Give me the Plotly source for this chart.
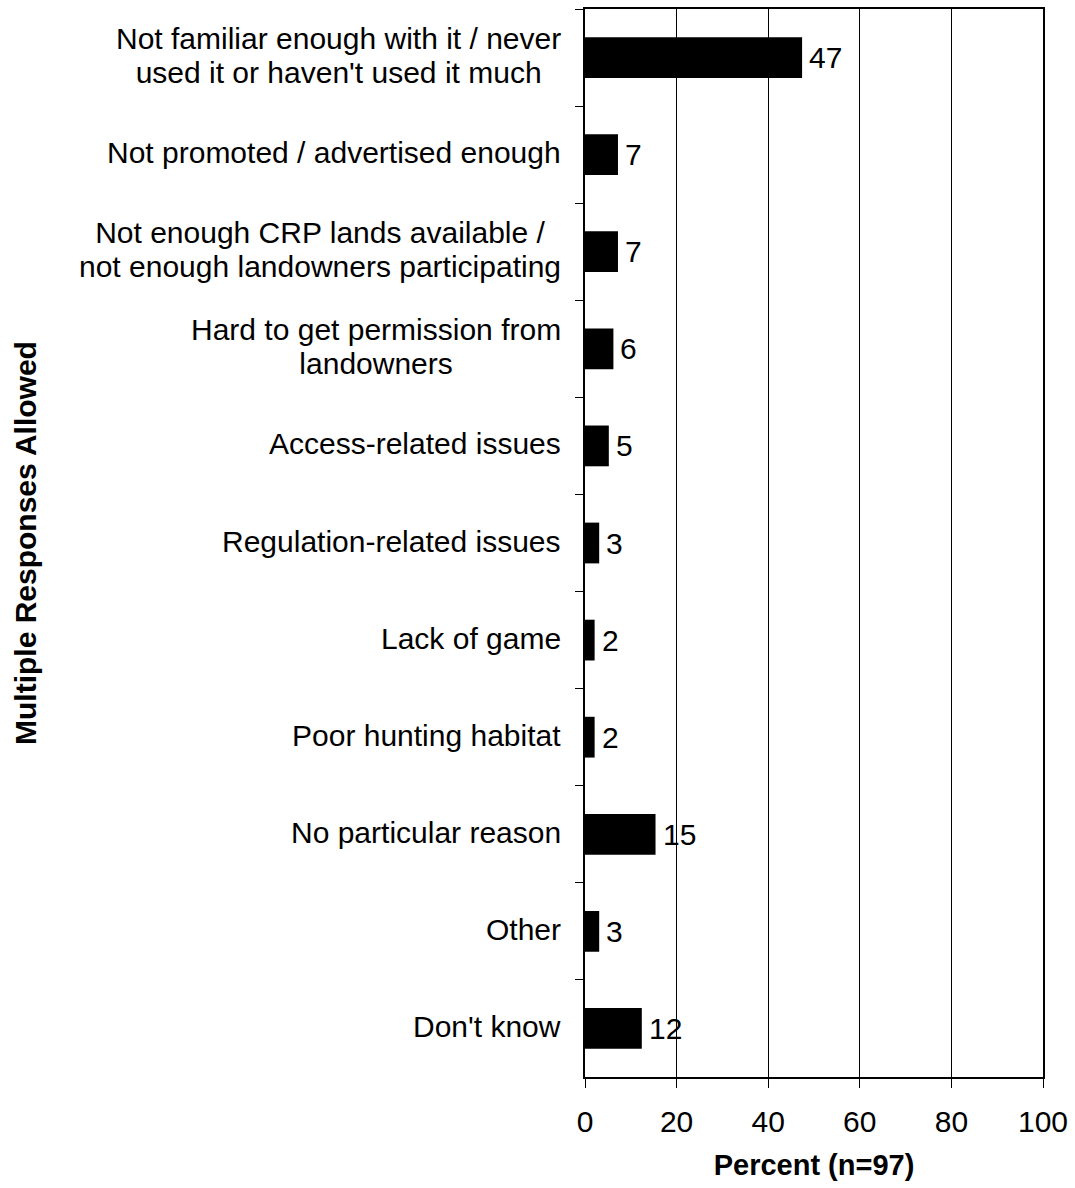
import plotly.graph_objects as go

# categories top to bottom
reasons = [
    "Not familiar enough with it / never<br>used it or haven't used it much",
    "Not promoted / advertised enough",
    "Not enough CRP lands available /<br>not enough landowners participating",
    "Hard to get permission from<br>landowners",
    "Access-related issues",
    "Regulation-related issues",
    "Lack of game",
    "Poor hunting habitat",
    "No particular reason",
    "Other",
    "Don't know",
]
percent = [47.4, 7.2, 7.2, 6.2, 5.2, 3.1, 2.1, 2.1, 15.4, 3.1, 12.4]
x_ticks = [0, 20, 40, 60, 80, 100]

FONT = "Liberation Sans, Arial, sans-serif"
FS = 30

fig = go.Figure()
fig.add_trace(go.Bar(
    x=percent, y=reasons, orientation="h",
    marker=dict(color="black", line=dict(width=0)),
    width=0.42,
    hoverinfo="x+y",
))

# value labels just right of the bar ends
for r, p in zip(reasons, percent):
    fig.add_annotation(
        x=p, xref="x", y=r, yref="y", text=str(round(p)),
        showarrow=False, xanchor="left", yanchor="middle", xshift=5,
        font=dict(size=FS, color="black", family=FONT),
    )

# category labels: block right-aligned, lines centered, tight line spacing
for r in reasons:
    lines = r.split("<br>")
    txt = "<br>".join('<span style="font-size:%dpx">%s</span>' % (FS, ln) for ln in lines)
    fig.add_annotation(
        x=0, xref="paper", y=r, yref="y",
        text=txt, showarrow=False, xanchor="right", yanchor="middle",
        align="center", xshift=-22, yshift=2,
        font=dict(size=26, color="black", family=FONT),
    )

fig.add_annotation(
    x=0, xref="paper", y=0.5, yref="paper",
    text="<b>Multiple Responses Allowed</b>", textangle=-90,
    showarrow=False, xanchor="center", yanchor="middle", xshift=-560,
    font=dict(size=30, color="black", family=FONT),
)

fig.update_layout(
    width=1075, height=1188,
    margin=dict(l=585, r=28, t=7, b=111),
    paper_bgcolor="white", plot_bgcolor="white",
    showlegend=False,
    font=dict(family=FONT, color="black"),
    xaxis=dict(
        range=[0, 100], tickvals=x_ticks, ticks="outside", ticklen=9,
        tickcolor="black", tickwidth=1, ticklabelstandoff=8,
        tickfont=dict(size=FS, color="black"),
        showgrid=True, gridcolor="black", gridwidth=1,
        showline=True, linecolor="black", linewidth=2, mirror=True,
        zeroline=False,
        title=dict(text="<b>Percent (n=97)</b>", font=dict(size=29, color="black"),
                   standoff=18),
    ),
    yaxis=dict(
        categoryorder="array", categoryarray=reasons, autorange="reversed",
        showticklabels=False, ticks="outside", tickson="boundaries",
        ticklen=8, tickcolor="black", tickwidth=1,
        showgrid=False,
        showline=True, linecolor="black", linewidth=2, mirror=True,
    ),
)

# drop the default page margin so the figure fills the window exactly
fig.write_html("out.html", config={"displayModeBar": False},
               post_script="document.body.style.margin='0';document.body.style.overflow='hidden';")
